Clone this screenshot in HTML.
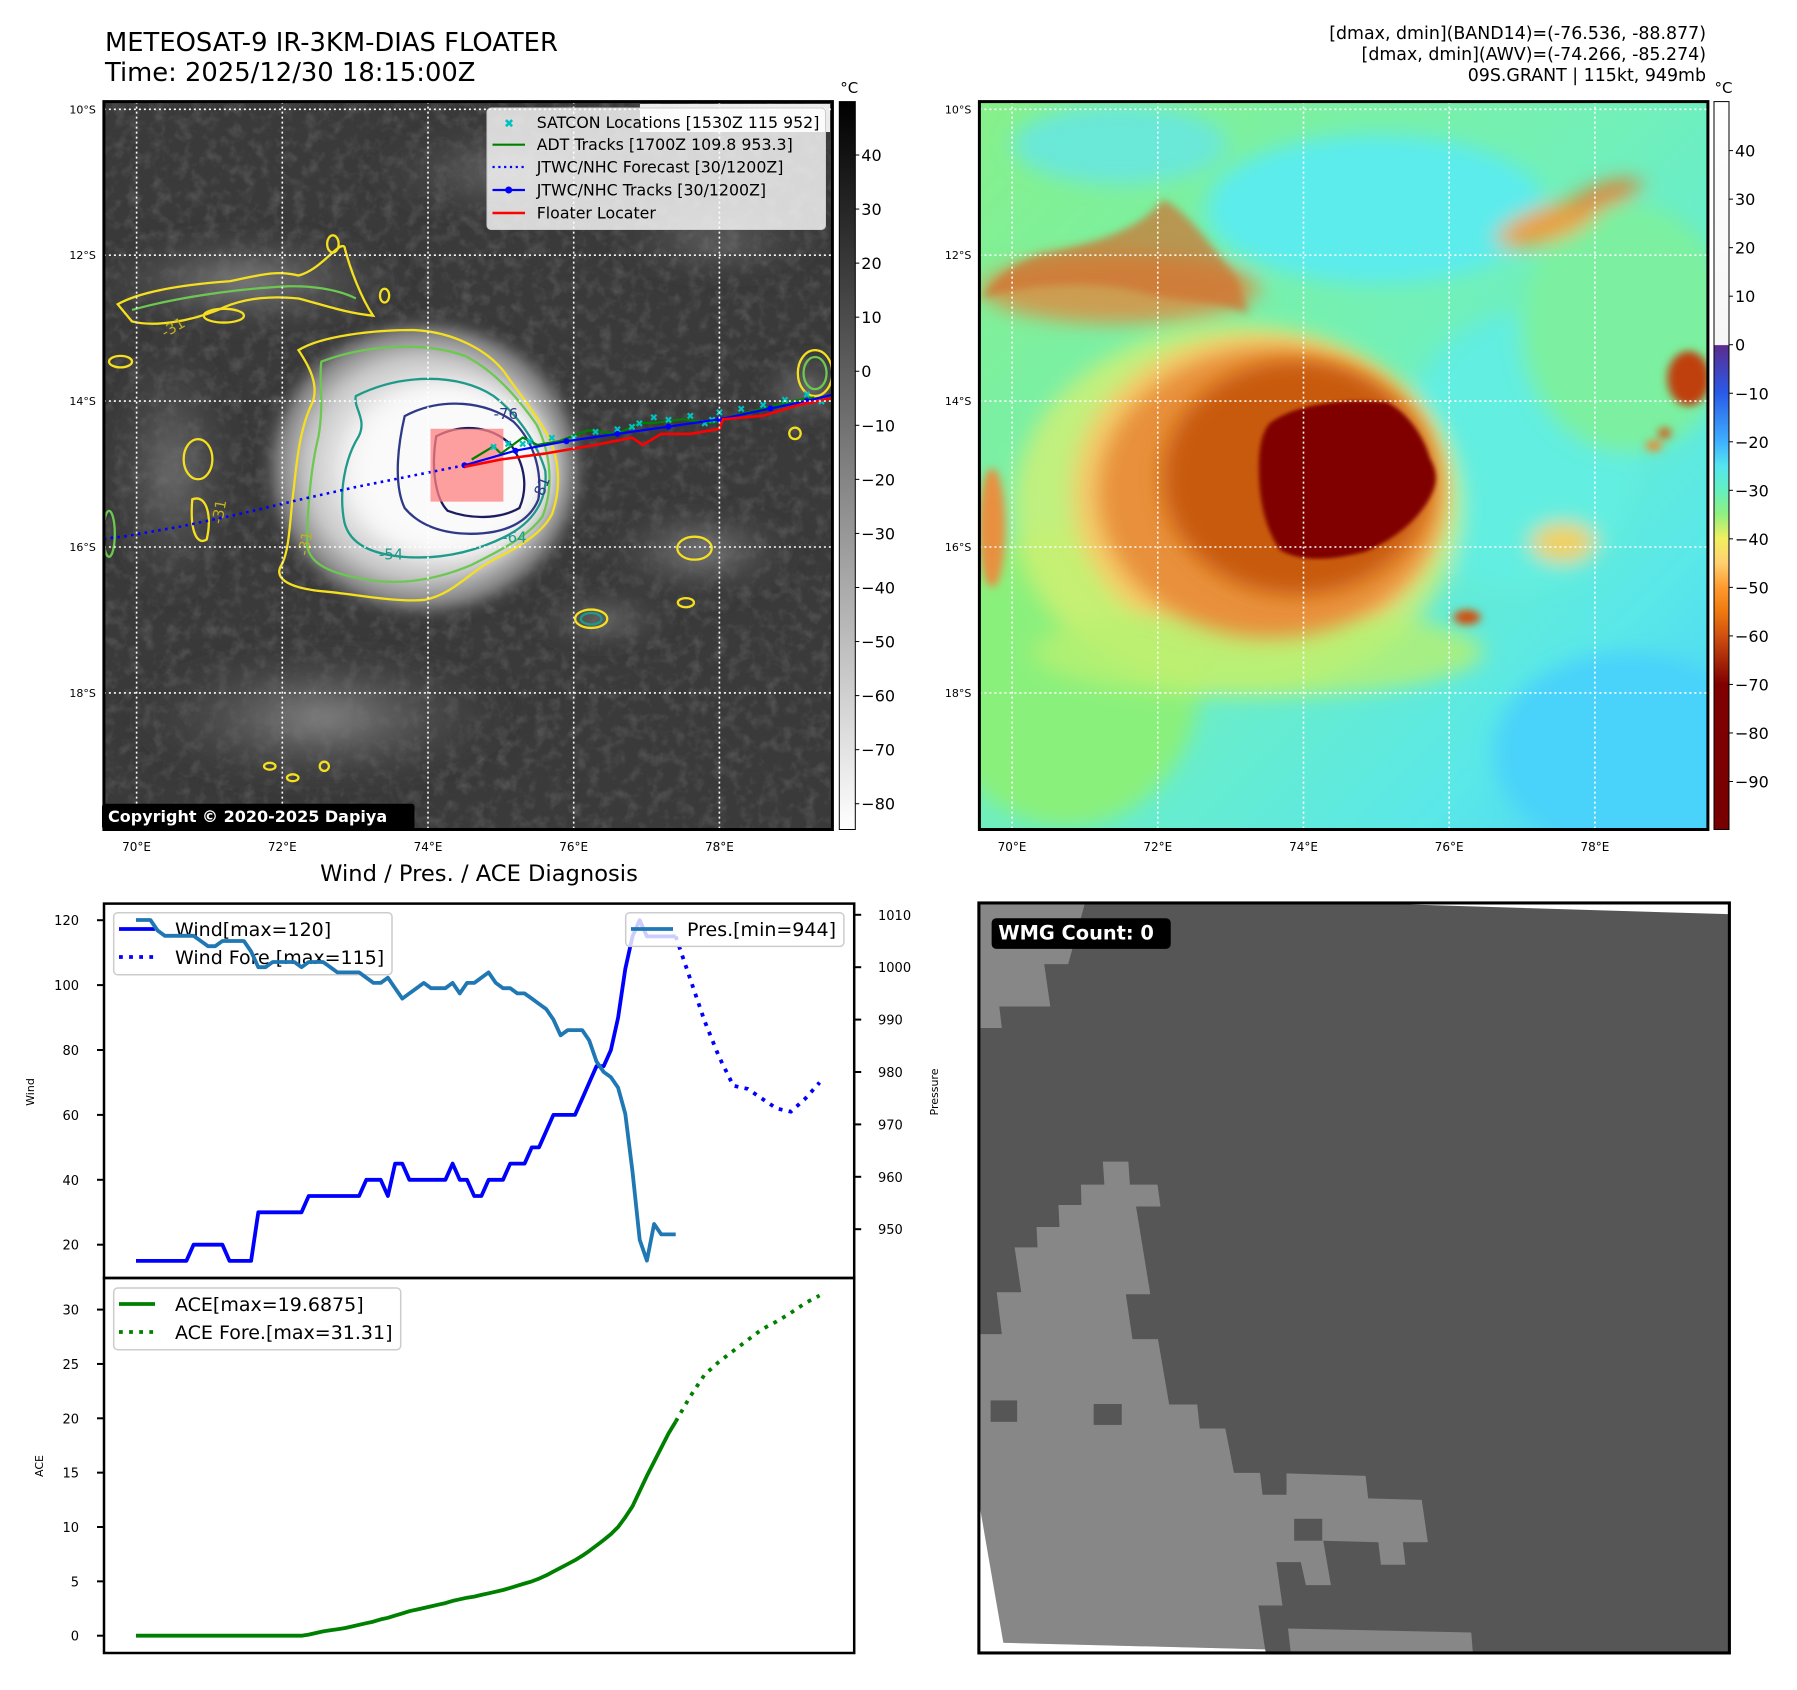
<!DOCTYPE html>
<html><head><meta charset="utf-8"><title>Cyclone floater diagnosis</title>
<style>
html,body{margin:0;padding:0;background:#fff;}
svg{display:block;font-family:"DejaVu Sans","Liberation Sans",sans-serif;}
</style></head>
<body>
<svg id="root" width="1797" height="1690" viewBox="0 0 1797 1690" xmlns="http://www.w3.org/2000/svg">
<defs>
  <linearGradient id="cb1" x1="0" y1="0" x2="0" y2="1">
    <stop offset="0" stop-color="#000"/><stop offset="1" stop-color="#fff"/>
  </linearGradient>
  <linearGradient id="cb2" x1="0" y1="0" x2="0" y2="1">
    <stop offset="0" stop-color="#fff"/><stop offset="0.334" stop-color="#f6f6f6"/>
    <stop offset="0.335" stop-color="#5b2c8f"/><stop offset="0.40" stop-color="#2a5ae8"/>
    <stop offset="0.467" stop-color="#3eb0ff"/><stop offset="0.50" stop-color="#55e4f0"/>
    <stop offset="0.534" stop-color="#64f0c0"/><stop offset="0.567" stop-color="#90f080"/>
    <stop offset="0.60" stop-color="#f0f060"/><stop offset="0.634" stop-color="#ffd070"/>
    <stop offset="0.667" stop-color="#ff9a30"/><stop offset="0.70" stop-color="#f07a10"/>
    <stop offset="0.734" stop-color="#d05010"/><stop offset="0.767" stop-color="#a82808"/>
    <stop offset="0.80" stop-color="#800000"/><stop offset="1" stop-color="#780000"/>
  </linearGradient>
  <radialGradient id="stormGray">
    <stop offset="0" stop-color="#ffffff"/><stop offset="0.45" stop-color="#f0f0f0"/>
    <stop offset="0.7" stop-color="#c8c8c8"/><stop offset="0.88" stop-color="#808080"/>
    <stop offset="1" stop-color="#3c3c3c" stop-opacity="0"/>
  </radialGradient>
  <radialGradient id="bandGray">
    <stop offset="0" stop-color="#8a8a8a"/><stop offset="1" stop-color="#3c3c3c" stop-opacity="0"/>
  </radialGradient>
  <linearGradient id="bg2" x1="0" y1="0" x2="1" y2="1">
    <stop offset="0" stop-color="#86f08a"/><stop offset="0.45" stop-color="#72f0b8"/>
    <stop offset="0.8" stop-color="#5ae8e8"/><stop offset="1" stop-color="#48d0fa"/>
  </linearGradient>
  <filter id="blur8" x="-20%" y="-20%" width="140%" height="140%"><feGaussianBlur stdDeviation="8"/></filter>
  <filter id="blur20" x="-30%" y="-30%" width="160%" height="160%"><feGaussianBlur stdDeviation="20"/></filter>
  <filter id="blur4"><feGaussianBlur stdDeviation="4"/></filter>
  <filter id="noise" x="0" y="0" width="100%" height="100%">
    <feTurbulence type="fractalNoise" baseFrequency="0.045" numOctaves="3" seed="4"/>
    <feColorMatrix type="matrix" values="0 0 0 0 0.6  0 0 0 0 0.6  0 0 0 0 0.6  0 0 0 1.0 -0.45"/>
  </filter>
  <clipPath id="m1clip"><rect x="103.9" y="101.6" width="728.5" height="727.9"/></clipPath>
</defs>
<rect width="1797" height="1690" fill="#fff"/>

<!-- titles -->
<text x="105" y="51" font-size="25.8" fill="#000">METEOSAT-9 IR-3KM-DIAS FLOATER</text>
<text x="105" y="81" font-size="25.8" fill="#000">Time: 2025/12/30 18:15:00Z</text>
<g font-size="17.4" text-anchor="end" fill="#000">
  <text x="1706" y="39">[dmax, dmin](BAND14)=(-76.536, -88.877)</text>
  <text x="1706" y="60">[dmax, dmin](AWV)=(-74.266, -85.274)</text>
  <text x="1706" y="81">09S.GRANT | 115kt, 949mb</text>
</g>

<!-- ============ MAP 1 imagery (zoom coords) ============ -->
<svg x="0" y="0" width="900" height="900" viewBox="0 0 1568 1568" preserveAspectRatio="none">
  <defs><clipPath id="f1"><rect x="181" y="177" width="1269" height="1268"/></clipPath></defs>
  <g clip-path="url(#f1)">
    <rect x="181" y="177" width="1269" height="1268" fill="#3a3a3a"/>
    <rect x="181" y="177" width="1269" height="1268" filter="url(#noise)" opacity="0.4"/>
    <g filter="url(#blur20)">
      <ellipse cx="430" cy="490" rx="300" ry="90" fill="url(#bandGray)"/>
      <ellipse cx="880" cy="300" rx="260" ry="90" fill="url(#bandGray)" opacity="0.6"/>
      <ellipse cx="1250" cy="420" rx="200" ry="70" fill="url(#bandGray)" opacity="0.6"/>
      <ellipse cx="560" cy="1250" rx="350" ry="130" fill="url(#bandGray)"/>
      <ellipse cx="1220" cy="960" rx="180" ry="80" fill="url(#bandGray)"/>
      <ellipse cx="1050" cy="1080" rx="130" ry="40" fill="url(#bandGray)"/>
      <ellipse cx="300" cy="820" rx="120" ry="250" fill="url(#bandGray)" opacity="0.7"/>
      <ellipse cx="1400" cy="680" rx="80" ry="60" fill="url(#bandGray)"/>
    </g>
    <ellipse cx="740" cy="815" rx="290" ry="270" fill="url(#stormGray)" filter="url(#blur8)"/>
    <ellipse cx="790" cy="820" rx="170" ry="150" fill="#fafafa" filter="url(#blur20)"/>
    <!-- contours -->
    <g fill="none" stroke-width="4">
      <path d="M520,610 C560,585 650,575 720,575 C790,578 850,610 880,650 C900,680 930,715 955,760 C975,800 978,850 962,895 C945,930 900,955 860,975 C820,995 790,1035 740,1045 C690,1050 620,1035 560,1030 C510,1025 475,1010 490,985 C505,960 505,900 512,850 C518,790 525,740 545,700 C555,670 540,640 520,610 Z" stroke="#f5e020"/>
      <path d="M560,630 C640,600 740,595 810,620 C860,645 900,690 935,740 C960,790 965,850 945,900 C920,935 870,960 820,985 C760,1010 700,1020 640,1010 C580,1000 540,985 535,950 C535,900 540,820 555,760 C565,700 555,660 560,630 Z" stroke="#6cc850"/>
      <path d="M620,690 C700,650 800,650 860,690 C900,720 935,770 950,820 C955,870 930,910 880,935 C820,965 760,975 700,970 C650,965 610,950 600,910 C590,860 600,800 625,760 C640,730 615,710 620,690 Z" stroke="#1e9a8a"/>
      <path d="M705,725 C770,690 850,700 895,735 C930,770 945,820 938,870 C922,910 880,930 820,930 C770,930 730,915 705,885 C688,850 690,790 705,725 Z" stroke="#2e3a88"/>
      <path d="M760,760 C810,735 860,745 890,775 C915,810 920,850 905,885 C870,905 820,905 780,890 C760,870 750,820 760,760 Z" stroke="#1c1c60"/>
      <path d="M205,530 C250,505 330,495 400,490 C450,480 480,470 520,480 C560,470 590,420 600,430 C610,470 630,520 650,550 C600,545 560,530 520,520 C470,515 420,520 380,540 C330,560 270,570 230,560 Z" stroke="#f5e020"/>
      <path d="M230,540 C300,520 400,505 480,500 C540,495 590,505 620,520" stroke="#6cc850"/>
      <ellipse cx="345" cy="800" rx="25" ry="35" stroke="#f5e020"/>
      <path d="M335,870 C360,860 370,900 360,940 C345,950 330,930 335,870 Z" stroke="#f5e020"/>
      <ellipse cx="1210" cy="955" rx="30" ry="20" stroke="#f5e020"/>
      <ellipse cx="1030" cy="1078" rx="28" ry="16" stroke="#f5e020"/>
      <ellipse cx="1030" cy="1078" rx="18" ry="10" stroke="#1e9a8a"/>
      <ellipse cx="1420" cy="650" rx="30" ry="40" stroke="#f5e020"/>
      <ellipse cx="1420" cy="650" rx="20" ry="28" stroke="#6cc850"/>
      <ellipse cx="1385" cy="755" rx="10" ry="10" stroke="#f5e020"/>
      <ellipse cx="210" cy="630" rx="20" ry="10" stroke="#f5e020"/>
      <ellipse cx="190" cy="930" rx="10" ry="40" stroke="#6cc850"/>
      <ellipse cx="390" cy="550" rx="35" ry="12" stroke="#f5e020"/>
      <ellipse cx="1195" cy="1050" rx="14" ry="8" stroke="#f5e020"/>
      <ellipse cx="470" cy="1335" rx="10" ry="6" stroke="#f5e020"/>
      <ellipse cx="510" cy="1355" rx="10" ry="6" stroke="#f5e020"/>
      <ellipse cx="565" cy="1335" rx="8" ry="8" stroke="#f5e020"/>
      <ellipse cx="580" cy="425" rx="10" ry="15" stroke="#f5e020"/>
      <ellipse cx="670" cy="515" rx="8" ry="12" stroke="#f5e020"/>
    </g>
    <g font-size="26" fill="#7a7a30">
      <text x="860" y="730" fill="#2e3a88">-76</text>
      <text x="920" y="870" fill="#2e3a88" transform="rotate(-70 935 855)">-81</text>
      <text x="875" y="945" fill="#1e9a8a">-64</text>
      <text x="660" y="975" fill="#1e9a8a">-54</text>
      <text x="500" y="975" fill="#c0b020" transform="rotate(-80 515 950)">-31</text>
      <text x="350" y="920" fill="#c0b020" transform="rotate(-80 365 895)">-31</text>
      <text x="280" y="580" fill="#c0b020" transform="rotate(-30 300 570)">-31</text>
    </g>
    <rect x="750" y="747" width="127" height="127" fill="#ff8080" opacity="0.75"/>
  </g>
</svg>

<g id="map1-overlay" clip-path="url(#m1clip)"></g>
<g id="map1-axes"></g>

<!-- ============ MAP 2 imagery ============ -->
<svg x="960" y="80" width="837" height="780" viewBox="0 0 1568 1568" preserveAspectRatio="none">
  <defs><clipPath id="f2"><rect x="37" y="42" width="1363" height="1463"/></clipPath></defs>
  <g clip-path="url(#f2)">
    <rect x="37" y="42" width="1363" height="1463" fill="url(#bg2)"/>
    <g filter="url(#blur20)">
      <ellipse cx="780" cy="260" rx="320" ry="150" fill="#5cecec"/>
      <ellipse cx="1050" cy="750" rx="220" ry="280" fill="#62eee0"/>
      <ellipse cx="1250" cy="1350" rx="250" ry="200" fill="#48d2fa"/>
      <ellipse cx="200" cy="1200" rx="250" ry="300" fill="#8af07c"/>
      <ellipse cx="1250" cy="500" rx="200" ry="250" fill="#7cf0a0"/>
      <ellipse cx="300" cy="130" rx="200" ry="80" fill="#6ae8d8"/>
      <ellipse cx="520" cy="860" rx="420" ry="370" fill="#d8f070" opacity="0.75"/>
      <ellipse cx="560" cy="830" rx="350" ry="320" fill="#f8c868" opacity="0.9"/>
      <ellipse cx="560" cy="1150" rx="420" ry="90" fill="#b8f070" opacity="0.8"/>
      <ellipse cx="300" cy="420" rx="260" ry="70" fill="#e08a40" opacity="0.8"/>
      <ellipse cx="1100" cy="290" rx="100" ry="35" fill="#e8a040" transform="rotate(-20 1100 290)"/>
      <ellipse cx="1210" cy="230" rx="70" ry="22" fill="#e08030" transform="rotate(-20 1210 230)"/>
      <ellipse cx="1130" cy="930" rx="60" ry="40" fill="#f0d060"/>
    </g>
    <ellipse cx="580" cy="830" rx="320" ry="290" fill="#e8903a" filter="url(#blur20)"/>
    <ellipse cx="630" cy="800" rx="250" ry="235" fill="#c85a10" filter="url(#blur20)"/>
    <path d="M580,690 C630,650 720,640 800,648 C840,670 870,720 880,760 C895,790 895,810 880,840 C860,880 820,920 760,948 C700,965 640,970 600,945 C570,900 560,840 560,780 C560,740 565,710 580,690 Z" fill="#800000" filter="url(#blur4)"/>
    <g filter="url(#blur8)">
      <path d="M40,440 C120,410 250,400 350,430 C420,450 480,440 540,470 L520,400 C470,330 420,260 380,240 C340,300 250,330 150,350 C100,370 60,400 40,440 Z" fill="#d07030" opacity="0.7"/>
      <ellipse cx="1365" cy="600" rx="40" ry="55" fill="#c04010"/>
      <ellipse cx="950" cy="1080" rx="25" ry="15" fill="#d05010"/>
      <ellipse cx="1320" cy="710" rx="12" ry="12" fill="#d06020"/>
      <ellipse cx="1300" cy="735" rx="15" ry="12" fill="#e09040"/>
      <ellipse cx="60" cy="900" rx="25" ry="120" fill="#e89040"/>
    </g>
  </g>
</svg>
<g id="map2-axes"></g>

<!-- ============ Bottom-right WMG panel ============ -->
<svg x="960" y="880" width="800" height="800" viewBox="0 0 1568 1568" preserveAspectRatio="none">
  <rect x="37" y="45" width="1471" height="1470" fill="#fff"/>
  <polygon points="37,45 850,47 1505,67 1508,67 1508,1515 37,1515" fill="#565656"/>
  <polygon points="40,45 245,45 212,165 165,165 177,248 77,248 82,290 40,290" fill="#878787"/>
  <polygon points="40,890 82,890 72,808 120,808 107,720 152,720 150,680 195,680 193,637 238,637 237,597 283,597 280,552 330,552 333,597 387,597 393,640 345,640 373,812 325,812 338,900 388,900 410,1028 465,1028 470,1075 520,1075 537,1162 588,1162 593,1205 640,1205 640,1163 795,1168 800,1212 905,1215 917,1298 868,1298 873,1342 825,1342 820,1298 712,1295 727,1382 678,1382 668,1337 620,1337 632,1422 585,1422 598,1508 85,1495 40,1235" fill="#878787"/>
  <rect x="60" y="1020" width="52" height="42" fill="#565656"/>
  <rect x="262" y="1027" width="55" height="41" fill="#565656"/>
  <rect x="655" y="1252" width="55" height="43" fill="#565656"/>
  <polygon points="643,1467 1002,1475 1005,1512 648,1512" fill="#878787"/>
  <polygon points="37,1235 40,1235 85,1495 598,1508 600,1515 37,1515" fill="#fff"/>
  <rect x="37" y="45" width="1471" height="1470" fill="none" stroke="#000" stroke-width="6"/>
  <rect x="62" y="75" width="351" height="60" rx="9" fill="#000"/>
  <text x="75" y="117" font-size="38" font-weight="bold" fill="#fff">WMG Count: 0</text>
</svg>

<!-- ============ Bottom-left chart ============ -->
<text x="479" y="881" font-size="22.6" text-anchor="middle" fill="#000">Wind / Pres. / ACE Diagnosis</text>
<g id="chart"></g>
</svg>

<script>
const NS = 'http://www.w3.org/2000/svg';
function mk(parent, tag, attrs, text) {
  const e = document.createElementNS(NS, tag);
  for (const k in attrs) e.setAttribute(k, attrs[k]);
  if (text !== undefined) e.textContent = text;
  parent.appendChild(e);
  return e;
}

/* ---------------- Map data (lon/lat) ---------------- */
const latTicks = [10, 12, 14, 16, 18];
const lonTicks = [70, 72, 74, 76, 78];
const cb1Ticks = [40, 30, 20, 10, 0, -10, -20, -30, -40, -50, -60, -70, -80];
const cb2Ticks = [40, 30, 20, 10, 0, -10, -20, -30, -40, -50, -60, -70, -80, -90];
const fcstLon = [74.5, 73.8, 73.0, 72.2, 71.4, 70.6, 69.8, 69.4];
const fcstLat = [14.88, 15.02, 15.18, 15.36, 15.55, 15.72, 15.86, 15.9];
const bestLon = [74.5, 75.2, 75.9, 76.6, 77.3, 78.0, 78.7, 79.2, 79.6];
const bestLat = [14.88, 14.68, 14.55, 14.45, 14.35, 14.25, 14.1, 14.0, 13.9];
const floaterLon = [74.5, 75.0, 75.6, 76.3, 76.8, 76.95, 77.2, 77.6, 78.0, 78.05, 78.6, 79.1, 79.6];
const floaterLat = [14.9, 14.8, 14.72, 14.6, 14.5, 14.6, 14.45, 14.45, 14.38, 14.25, 14.2, 14.05, 13.95];
const adtLon = [74.6, 74.9, 75.0, 75.3, 75.5, 75.8, 76.2, 76.6, 76.9, 77.1, 77.5, 77.9, 78.2, 78.6, 79.0, 79.3];
const adtLat = [14.8, 14.62, 14.72, 14.5, 14.6, 14.55, 14.4, 14.45, 14.3, 14.3, 14.25, 14.3, 14.2, 14.1, 14.0, 13.95];
const satLon = [74.9, 75.1, 75.4, 75.7, 76.0, 76.3, 76.6, 76.9, 77.1, 77.3, 77.6, 77.8, 78.0, 78.3, 78.6, 78.9, 79.2, 79.4, 75.3, 76.8, 77.9];
const satLat = [14.62, 14.58, 14.55, 14.5, 14.5, 14.42, 14.38, 14.3, 14.22, 14.25, 14.2, 14.3, 14.15, 14.1, 14.05, 13.98, 13.9, 14.0, 14.58, 14.35, 14.25];

function mx(lon) { return 136.6 + (lon - 70) * 72.85; }
function my(lat) { return 109.3 + (lat - 10) * 72.95; }

function pts(lons, lats, dx) { return lons.map((l, i) => (mx(l) + dx).toFixed(1) + ',' + my(lats[i]).toFixed(1)).join(' '); }

function drawMapAxes(g, dx, name) {
  const L = 103.9 + dx, T = 101.6, W = 728.5, H = 727.9;
  latTicks.forEach(lat => {
    const y = my(lat);
    const gl = mk(g, 'line', {x1: L, x2: L + W, y1: y, y2: y, stroke: '#fff', 'stroke-width': 1.6, 'stroke-dasharray': '2 3'});
    
    
    const t = mk(g, 'text', {x: L - 8, y: y + 4, 'font-size': 11, 'text-anchor': 'end', fill: '#000'}, lat + '°S');
    
    
  });
  lonTicks.forEach(lon => {
    const x = mx(lon) + dx;
    const gl = mk(g, 'line', {x1: x, x2: x, y1: T, y2: T + H, stroke: '#fff', 'stroke-width': 1.6, 'stroke-dasharray': '2 3'});
    
    
    const t = mk(g, 'text', {x: x, y: 851, 'font-size': 12, 'text-anchor': 'middle', fill: '#000'}, lon + '°E');
    
    
  });
  const fr = mk(g, 'rect', {x: L, y: T, width: W, height: H, fill: 'none', stroke: '#000', 'stroke-width': 3});
  
  
}
const m1a = document.getElementById('map1-axes');
const m2a = document.getElementById('map2-axes');
drawMapAxes(m1a, 0, 'ir-map');
drawMapAxes(m2a, 875.5, 'awv-map');

function colorbar(g, x, w, grad, ticks, y0v, y0, per10, name) {
  const bar = mk(g, 'rect', {x: x, y: 101.6, width: w, height: 727.9, fill: 'url(#' + grad + ')', stroke: '#000', 'stroke-width': 1});
  
  
  const u = mk(g, 'text', {x: x + w / 2 + 2, y: 93, 'font-size': 15, 'text-anchor': 'middle', fill: '#000'}, '°C');
  
  
  ticks.forEach(v => {
    const y = y0 + (y0v - v) * per10 / 10;
    mk(g, 'line', {x1: x + w, x2: x + w + 4, y1: y, y2: y, stroke: '#000', 'stroke-width': 1});
    const t = mk(g, 'text', {x: x + w + 6, y: y + 6, 'font-size': 16, fill: '#000'}, v < 0 ? '\u2212' + (-v) : String(v));
    
    
  });
}
colorbar(m1a, 839.3, 16, 'cb1', cb1Ticks, 40, 155, 54.06, 'ir-colorbar');
colorbar(m2a, 1714, 15, 'cb2', cb2Ticks, 40, 150.6, 48.53, 'awv-colorbar');

const ov = document.getElementById('map1-overlay');
const fc = mk(ov, 'polyline', {points: pts(fcstLon, fcstLat, 0), fill: 'none', stroke: '#0000ff', 'stroke-width': 2.6, 'stroke-dasharray': '2.6 4.3'});


const adt = mk(ov, 'polyline', {points: pts(adtLon, adtLat, 0), fill: 'none', stroke: '#008000', 'stroke-width': 2.2});


satLon.forEach((l, i) => {
  const t = mk(ov, 'text', {x: mx(l), y: my(satLat[i]) + 4, 'font-size': 10, 'text-anchor': 'middle', fill: '#00c0c0', 'font-weight': 'bold'}, '\u2716');
  
  
});
const bt = mk(ov, 'polyline', {points: pts(bestLon, bestLat, 0), fill: 'none', stroke: '#0000ff', 'stroke-width': 2.2});


bestLon.forEach((l, i) => {
  const c = mk(ov, 'circle', {cx: mx(l), cy: my(bestLat[i]), r: 3, fill: '#0000ff'});
  
  
});
const fl = mk(ov, 'polyline', {points: pts(floaterLon, floaterLat, 0), fill: 'none', stroke: '#ff0000', 'stroke-width': 2.6});



const lg = mk(m1a, 'g', {});


mk(lg, 'rect', {x: 640, y: 104, width: 190, height: 28, fill: '#fff', opacity: 0.9});
mk(lg, 'rect', {x: 487, y: 108, width: 338.5, height: 121.5, rx: 4, fill: '#fff', 'fill-opacity': 0.8, stroke: '#ccc', 'stroke-width': 1});
const legRows = ['SATCON Locations [1530Z 115 952]', 'ADT Tracks [1700Z 109.8 953.3]', 'JTWC/NHC Forecast [30/1200Z]', 'JTWC/NHC Tracks [30/1200Z]', 'Floater Locater'];
const legY = [122.3, 144.7, 167, 190, 213];
legRows.forEach((s, i) => {
  const t = mk(lg, 'text', {x: 536.7, y: legY[i] + 5.5, 'font-size': 15.8, fill: '#000'}, s);
  
  
});
mk(lg, 'text', {x: 509, y: legY[0] + 5, 'font-size': 12, 'text-anchor': 'middle', fill: '#00c0c0', 'font-weight': 'bold'}, '\u2716');
mk(lg, 'line', {x1: 492.5, x2: 525, y1: legY[1], y2: legY[1], stroke: '#008000', 'stroke-width': 2.2});
mk(lg, 'line', {x1: 492.5, x2: 525, y1: legY[2], y2: legY[2], stroke: '#0000ff', 'stroke-width': 2.2, 'stroke-dasharray': '2.2 3.6'});
mk(lg, 'line', {x1: 492.5, x2: 525, y1: legY[3], y2: legY[3], stroke: '#0000ff', 'stroke-width': 2.2});
mk(lg, 'circle', {cx: 508.7, cy: legY[3], r: 3.5, fill: '#0000ff'});
mk(lg, 'line', {x1: 492.5, x2: 525, y1: legY[4], y2: legY[4], stroke: '#ff0000', 'stroke-width': 2.6});

const cp = mk(m1a, 'rect', {x: 102, y: 803.7, width: 312.5, height: 25.8, rx: 3, fill: '#000'});


const cpt = mk(m1a, 'text', {x: 108, y: 822, 'font-size': 16, 'font-weight': 'bold', fill: '#fff'}, 'Copyright \u00a9 2020-2025 Dapiya');



/* ---------------- Diagnosis chart data ---------------- */
const windObs = [15,15,15,15,15,15,15,15,20,20,20,20,20,15,15,15,15,30,30,30,30,30,30,30,35,35,35,35,35,35,35,35,40,40,40,35,45,45,40,40,40,40,40,40,45,40,40,35,35,40,40,40,45,45,45,50,50,55,60,60,60,60,65,70,75,75,80,90,105,115,120,115,115,115,115,115];
const presObs = [1009,1009,1009,1007,1006,1006,1006,1006,1006,1005,1004,1004,1005,1005,1005,1005,1003,1000,1000,1001,1001,1001,1001,1000,1001,1001,1001,1000,999,999,999,999,998,997,997,998,996,994,995,996,997,996,996,996,997,995,997,997,998,999,997,996,996,995,995,994,993,992,990,987,988,988,988,986,982,980,979,977,972,961,948,944,951,949,949,949];
const aceObs = [0,0,0,0,0,0,0,0,0,0,0,0,0,0,0,0,0,0,0,0,0,0,0,0,0.1,0.25,0.4,0.5,0.6,0.7,0.85,1.0,1.15,1.3,1.5,1.65,1.85,2.05,2.25,2.4,2.55,2.7,2.85,3.0,3.2,3.35,3.5,3.6,3.75,3.9,4.05,4.2,4.4,4.6,4.8,5.0,5.25,5.55,5.9,6.25,6.6,6.95,7.35,7.8,8.3,8.8,9.35,10.0,10.9,11.9,13.3,14.7,16.0,17.3,18.6,19.7];
const windFcst = [115,102,89,78,69,68,65,62,61,65,70];
const aceFcst = [19.7,22.0,24.0,25.2,26.2,27.2,28.2,28.9,29.7,30.6,31.3];
const windTicks = [20,40,60,80,100,120];
const presTicks = [950,960,970,980,990,1000,1010];
const aceTicks = [0,5,10,15,20,25,30];

const CL = 104, CR = 854.2, CT = 903.6, CM = 1278, CB = 1653;
function xi(i) { return 136 + i * 7.196; }
function xf(k) { return xi(75 + 2 * k); }
function yW(v) { return 920.2 + (120 - v) * 3.245; }
function yP(p) { return 914.8 + (1010 - p) * 5.24; }
function yA(a) { return 1635.7 - a * 10.87; }

const ch = document.getElementById('chart');
const defs = document.querySelector('defs');
const cpTop = mk(defs, 'clipPath', {id: 'topclip'});
mk(cpTop, 'rect', {x: CL, y: CT, width: CR - CL, height: CM - CT});
const cpBot = mk(defs, 'clipPath', {id: 'botclip'});
mk(cpBot, 'rect', {x: CL, y: CM, width: CR - CL, height: CB - CM});

function ptsArr(xs, ys) { return xs.map((x, i) => x.toFixed(1) + ',' + ys[i].toFixed(1)).join(' '); }

windTicks.forEach(v => {
  const y = yW(v);
  mk(ch, 'line', {x1: CL - 7, x2: CL, y1: y, y2: y, stroke: '#000', 'stroke-width': 2});
  const t = mk(ch, 'text', {x: 79, y: y + 5, 'font-size': 13, 'text-anchor': 'end', fill: '#000'}, String(v));
  
  
});
presTicks.forEach(v => {
  const y = yP(v);
  mk(ch, 'line', {x1: CR, x2: CR + 7, y1: y, y2: y, stroke: '#000', 'stroke-width': 2});
  const t = mk(ch, 'text', {x: 878, y: y + 5, 'font-size': 13, fill: '#000'}, String(v));
  
  
});
aceTicks.forEach(v => {
  const y = yA(v);
  mk(ch, 'line', {x1: CL - 7, x2: CL, y1: y, y2: y, stroke: '#000', 'stroke-width': 2});
  const t = mk(ch, 'text', {x: 79, y: y + 5, 'font-size': 13, 'text-anchor': 'end', fill: '#000'}, String(v));
  
  
});
const yl1 = mk(ch, 'text', {x: 0, y: 0, 'font-size': 11, 'text-anchor': 'middle', transform: 'translate(34 1092) rotate(-90)'}, 'Wind');


const yl2 = mk(ch, 'text', {x: 0, y: 0, 'font-size': 11, 'text-anchor': 'middle', transform: 'translate(938 1092) rotate(-90)'}, 'Pressure');


const yl3 = mk(ch, 'text', {x: 0, y: 0, 'font-size': 11, 'text-anchor': 'middle', transform: 'translate(43 1466) rotate(-90)'}, 'ACE');



const gTop = mk(ch, 'g', {'clip-path': 'url(#topclip)'});
const wl = mk(gTop, 'polyline', {points: ptsArr(windObs.map((v, i) => xi(i)), windObs.map(yW)), fill: 'none', stroke: '#0000ff', 'stroke-width': 3.8, 'stroke-linejoin': 'round'});


const wf = mk(gTop, 'polyline', {points: ptsArr(windFcst.map((v, k) => xf(k)), windFcst.map(yW)), fill: 'none', stroke: '#0000ff', 'stroke-width': 3.8, 'stroke-dasharray': '3.8 6.3'});



const wlg = mk(ch, 'g', {});


mk(wlg, 'rect', {x: 113.7, y: 912.7, width: 278.3, height: 62.1, rx: 4, fill: '#fff', 'fill-opacity': 0.8, stroke: '#ccc', 'stroke-width': 1.5});
mk(wlg, 'line', {x1: 119, x2: 155, y1: 929, y2: 929, stroke: '#0000ff', 'stroke-width': 3.8});
mk(wlg, 'line', {x1: 119, x2: 155, y1: 957, y2: 957, stroke: '#0000ff', 'stroke-width': 3.8, 'stroke-dasharray': '3.8 6.3'});
mk(wlg, 'text', {x: 175, y: 936, 'font-size': 19, fill: '#000'}, 'Wind[max=120]');
mk(wlg, 'text', {x: 175, y: 964, 'font-size': 19, fill: '#000'}, 'Wind Fore.[max=115]');

const pl = mk(gTop, 'polyline', {points: ptsArr(presObs.map((v, i) => xi(i)), presObs.map(yP)), fill: 'none', stroke: '#1f77b4', 'stroke-width': 3.8, 'stroke-linejoin': 'round'});


ch.appendChild(gTop);
const plg = mk(ch, 'g', {});


mk(plg, 'rect', {x: 625.7, y: 912.7, width: 218.2, height: 33.7, rx: 4, fill: '#fff', 'fill-opacity': 0.8, stroke: '#ccc', 'stroke-width': 1.5});
mk(plg, 'line', {x1: 631, x2: 673, y1: 929, y2: 929, stroke: '#1f77b4', 'stroke-width': 3.8});
mk(plg, 'text', {x: 687, y: 936, 'font-size': 19, fill: '#000'}, 'Pres.[min=944]');

const gBot = mk(ch, 'g', {'clip-path': 'url(#botclip)'});
const al = mk(gBot, 'polyline', {points: ptsArr(aceObs.map((v, i) => xi(i)), aceObs.map(yA)), fill: 'none', stroke: '#008000', 'stroke-width': 3.8, 'stroke-linejoin': 'round'});


const af = mk(gBot, 'polyline', {points: ptsArr(aceFcst.map((v, k) => xf(k)), aceFcst.map(yA)), fill: 'none', stroke: '#008000', 'stroke-width': 3.8, 'stroke-dasharray': '3.8 6.3'});


const alg = mk(ch, 'g', {});


mk(alg, 'rect', {x: 113.7, y: 1288, width: 287, height: 61.7, rx: 4, fill: '#fff', 'fill-opacity': 0.8, stroke: '#ccc', 'stroke-width': 1.5});
mk(alg, 'line', {x1: 119, x2: 155, y1: 1304, y2: 1304, stroke: '#008000', 'stroke-width': 3.8});
mk(alg, 'line', {x1: 119, x2: 155, y1: 1332, y2: 1332, stroke: '#008000', 'stroke-width': 3.8, 'stroke-dasharray': '3.8 6.3'});
mk(alg, 'text', {x: 175, y: 1311, 'font-size': 19, fill: '#000'}, 'ACE[max=19.6875]');
mk(alg, 'text', {x: 175, y: 1339, 'font-size': 19, fill: '#000'}, 'ACE Fore.[max=31.31]');

const f1 = mk(ch, 'rect', {x: CL, y: CT, width: CR - CL, height: CM - CT, fill: 'none', stroke: '#000', 'stroke-width': 2.5});


const f2 = mk(ch, 'rect', {x: CL, y: CM, width: CR - CL, height: CB - CM, fill: 'none', stroke: '#000', 'stroke-width': 2.5});


</script>
</body></html>
